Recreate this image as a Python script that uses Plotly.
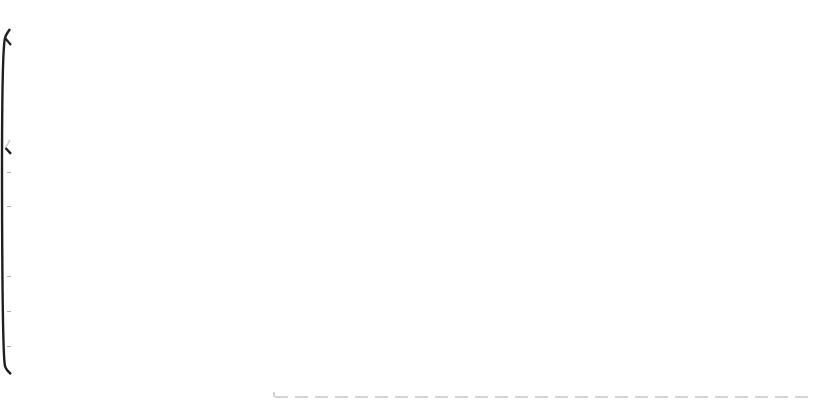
import plotly.graph_objects as go

# levels on the left axis that carry a small tick (no tick at 4 in the original)
tick_levels = [1, 2, 3, 5, 6]

# left axis stroke, drawn top to bottom (x in px from the left edge, y in axis units)
axis_x = [10, 5, 5, 7, 11]
axis_y = [10.11, 9.85, 0.425, 0.31, 0.195]

# break marks on the axis: top one and middle one
top_break_x = [5, 11]
top_break_y = [9.85, 9.65]
mid_break_upper_x = [10, 5.5]
mid_break_upper_y = [6.92, 6.69]
mid_break_lower_x = [5.5, 11]
mid_break_lower_y = [6.69, 6.52]

# dashed reference line along the bottom, with its little end tick
ref_x = [275, 810]
ref_y = [-0.466, -0.466]
ref_tick_x = [274, 274]
ref_tick_y = [-0.322, -0.466]

W, H = 813, 403

fig = go.Figure()

dark = "#1f1f1f"
fig.add_trace(go.Scatter(x=axis_x, y=axis_y, mode="lines",
                         line=dict(color=dark, width=2.4, shape="spline", smoothing=0.6),
                         hoverinfo="skip"))
fig.add_trace(go.Scatter(x=top_break_x, y=top_break_y, mode="lines",
                         line=dict(color=dark, width=2.2), hoverinfo="skip"))
fig.add_trace(go.Scatter(x=mid_break_upper_x, y=mid_break_upper_y, mode="lines",
                         line=dict(color="#c8c8c8", width=1.5), hoverinfo="skip"))
fig.add_trace(go.Scatter(x=mid_break_lower_x, y=mid_break_lower_y, mode="lines",
                         line=dict(color=dark, width=2.4), hoverinfo="skip"))
fig.add_trace(go.Scatter(x=ref_x, y=ref_y, mode="lines",
                         line=dict(color="#a8a8a8", width=1, dash="13px,7px"),
                         hoverinfo="skip"))
fig.add_trace(go.Scatter(x=ref_tick_x, y=ref_tick_y, mode="lines",
                         line=dict(color="#a8a8a8", width=1), hoverinfo="skip"))

fig.update_layout(
    width=W, height=H,
    margin=dict(l=0, r=0, t=0, b=0),
    paper_bgcolor="white", plot_bgcolor="white",
    showlegend=False,
    xaxis=dict(range=[0, W], visible=False, domain=[0, 1]),
    yaxis=dict(range=[-0.638, 10.943], anchor="free", position=6 / W,
               showgrid=False, zeroline=False, showline=False,
               tickvals=tick_levels, ticks="inside", ticklen=4, tickwidth=1,
               tickcolor="#b0b0b0", showticklabels=False),
)

# page body has a default 8px margin; drop it so the figure sits at the window corner
fig.write_html("out.html", config={"displayModeBar": False},
               post_script="document.body.style.margin='0px';")
